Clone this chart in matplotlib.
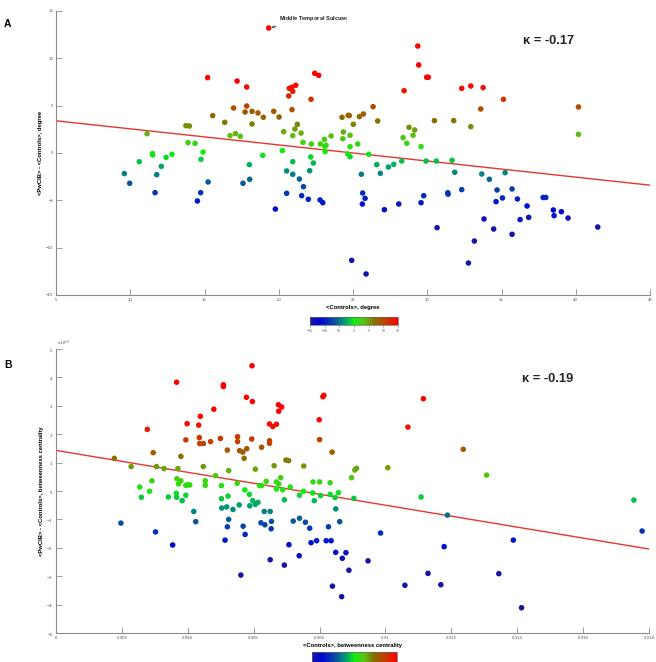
import numpy as np
import matplotlib
matplotlib.use('Agg')
import matplotlib.pyplot as plt
from matplotlib.colors import LinearSegmentedColormap, Normalize
from matplotlib.cm import ScalarMappable
from matplotlib.ticker import FuncFormatter, ScalarFormatter

plt.rcParams['font.family'] = ['Liberation Sans', 'DejaVu Sans']

# ---- panel A: degree ----
a_x = [19.32, 15.21, 17.19, 17.84, 20.67, 20.71, 20.87, 20.94, 21.14, 22.42, 22.69, 22.17,
       20.89, 16.96, 17.84, 17.73, 18.2, 18.6, 18.96, 19.66, 20.02, 15.55, 16.36, 18.2,
       21.25, 21.09, 13.75, 13.98, 11.13, 16.72, 17.08, 17.41, 20.33, 20.94, 21.5, 13.89,
       14.36, 21.63, 22.19, 22.8, 23.07, 23.18, 23.12, 23.1, 20.24, 14.9, 18.92, 10.61,
       11.49, 11.51, 12.41, 12.81, 12.09, 14.76, 22.15, 22.33, 20.94, 18.02, 9.6, 9.96,
       11.78, 20.53, 20.94, 22.08, 21.39, 21.66, 18.04, 17.59, 15.24, 11.67, 14.74, 14.52,
       20.53, 21.54, 21.99, 22.78, 22.96, 19.77,
       29.36, 29.42, 29.96, 30.07, 28.44, 32.32, 32.93, 33.76, 35.13, 33.6, 40.18, 26.35,
       25.7, 25.43, 24.67, 24.75, 24.26, 25.02, 26.66, 30.48, 31.78, 32.93, 28.77, 29.15,
       29.04, 28.37, 28.62, 29.58, 40.18, 23.52, 24.35, 24.31, 24.8, 24.8, 25.32, 24.64,
       24.8, 26.06, 25.56, 26.6, 26.84, 27.38, 27.74, 28.28, 29.92, 30.61, 31.67, 31.85,
       33.67, 34.18, 35.24, 34.7, 35.71, 32.32, 31.38, 31.4, 29.76, 29.58, 25.65, 25.81,
       25.63, 27.11, 28.08, 34.63, 35.06, 36.07, 36.72, 37.8, 37.98, 38.49, 38.54, 39.03,
       39.48, 36.83, 36.25, 33.82, 34.47, 35.71, 33.17, 30.66, 41.48, 24.91, 25.88, 32.77]
a_y = [13.2, 7.96, 7.6, 6.97, 6.02, 6.83, 6.94, 6.51, 7.15, 8.42, 8.2, 5.67,
       4.58, 4.75, 4.96, 4.33, 4.4, 4.23, 3.77, 4.4, 3.8, 3.94, 3.24, 3.06,
       3.03, 2.54, 2.89, 2.85, 2.04, 1.83, 2.04, 1.76, 2.25, 1.83, 2.11, 1.09,
       1.02, 1.13, 0.95, 0.95, 1.44, 0.81, 0.14, 0.7, 0.25, 0.1, -0.25, -0.92,
       -0.07, -0.21, -0.46, -0.14, -1.41, -0.67, -0.42, -1.06, -0.92, -1.23, -2.18, -3.2,
       -2.29, -1.9, -2.25, -1.87, -2.75, -3.56, -2.78, -3.2, -3.06, -4.19, -4.19, -5.07,
       -4.26, -4.51, -4.89, -4.96, -5.25, -5.92,
       11.3, 9.3, 8.0, 8.0, 6.58, 6.83, 7.08, 6.9, 5.67, 4.65, 4.86, 4.89,
       4.12, 3.84, 3.98, 3.95, 3.77, 3.03, 3.38, 3.42, 3.42, 2.78, 2.71, 2.43,
       1.87, 1.62, 1.02, 0.67, 1.97, 1.8, 2.22, 1.51, 1.87, 0.67, 0.95, -0.11,
       -0.39, -0.14, -2.25, -1.23, -2.15, -1.48, -1.2, -0.85, -0.85, -0.85, -0.77, -2.04,
       -2.22, -2.78, -2.08, -3.91, -3.8, -3.87, -4.2, -4.35, -4.51, -5.25, -4.23, -4.79,
       -5.39, -5.99, -5.39, -5.14, -4.75, -4.86, -5.6, -4.7, -4.7, -6.02, -6.62, -6.2,
       -6.87, -6.8, -7.04, -6.97, -8.03, -8.59, -9.3, -7.89, -7.82, -11.34, -12.78, -11.62]
a_fit = (4.25, -0.17)          # intercept, slope
a_kappa = '\u03ba = -0.17'
a_label = 'Middle Temporal Sulcus$_{\\mathregular{R}}$'

# ---- panel B: betweenness (x and y in units of 1e-3) ----
b_x = [5.95, 3.66, 5.08, 5.08, 5.78, 5.96, 4.79, 4.38, 3.98, 4.33, 2.77, 3.94,
       4.35, 4.69, 4.36, 4.47, 4.99, 5.51, 5.51, 5.94, 6.48, 6.58, 6.69, 6.75,
       6.85, 6.76, 7.99, 8.0, 8.1, 8.13, 6.48, 6.48, 6.24, 5.2, 5.57, 5.67,
       5.79, 5.71, 1.77, 2.95, 3.79, 2.28, 3.05, 3.28, 3.7, 4.47, 6.05, 6.62,
       6.98, 7.06, 7.52, 4.84, 5.24, 3.67, 3.79, 3.72, 3.94, 4.0, 4.06, 4.53,
       4.53, 2.91, 2.54, 2.84, 2.59, 3.65, 3.66, 3.41, 3.83, 3.94, 5.02, 5.02,
       5.5, 5.73, 5.87, 5.97, 5.88, 6.13, 6.05, 6.18, 6.24, 6.38, 6.69, 6.76,
       6.82, 6.69, 6.88, 7.11, 6.93, 7.39, 7.51, 7.79, 7.84, 7.8, 8.0, 8.03,
       5.22, 5.03, 5.18, 5.37, 5.56, 5.24, 4.18, 4.24, 6.32, 6.5, 6.54, 6.22,
       6.34, 6.53, 5.2, 5.68, 5.74, 5.13, 7.2, 7.39, 7.57, 7.7, 7.74, 7.07,
       7.38, 6.5, 6.93, 5.61, 1.97, 3.02, 3.54, 7.91, 8.27,
       11.15, 10.68, 12.36, 8.38, 10.07, 9.07, 9.12, 8.97, 13.07, 17.54, 8.32, 8.32,
       8.57, 8.47, 9.04, 11.08, 8.49, 11.88, 8.61, 9.85, 8.2, 8.35, 13.88, 17.79,
       8.49, 8.8, 8.69, 9.47, 11.78, 8.89, 11.29, 13.44, 8.39, 10.59, 11.68, 8.67,
       14.13]
b_y = [4.41, 3.83, 3.68, 3.74, 3.3, 3.15, 2.88, 2.63, 2.37, 2.32, 2.17, 1.8,
       1.88, 1.74, 1.67, 1.67, 1.85, 1.91, 1.74, 1.83, 2.36, 2.27, 2.35, 3.04,
       2.96, 2.81, 2.51, 1.81, 3.32, 3.37, 1.77, 1.68, 1.54, 1.44, 1.42, 1.37,
       1.49, 1.15, 1.15, 1.35, 1.22, 0.86, 0.86, 0.79, 0.79, 0.86, 0.77, 0.89,
       1.09, 1.07, 0.88, 0.54, 0.72, 0.43, 0.36, 0.25, 0.2, 0.22, 0.21, 0.36,
       0.2, 0.36, 0.14, -0.01, -0.22, -0.08, -0.22, -0.21, -0.34, -0.15, 0.19, -0.27,
       0.27, 0.04, -0.12, -0.34, -0.52, -0.4, -0.47, 0.19, 0.19, 0.34, 0.32, 0.25,
       0.47, 0.07, 0.04, 0.14, -0.31, -0.15, -0.01, -0.07, -0.34, 0.32, 0.32, -0.16,
       -0.18, -0.6, -0.56, -0.65, -0.49, -1.0, -0.72, -1.08, -0.72, -0.72, -1.07, -1.12,
       -1.19, -1.33, -1.26, -1.24, -1.53, -1.73, -1.06, -0.96, -1.1, -1.31, -1.82, -1.89,
       -2.28, -2.42, -2.61, -2.96, -1.13, -1.44, -1.9, -1.75, -1.26,
       3.25, 2.25, 1.47, 1.37, 0.82, 0.74, 0.8, 0.47, 0.56, -0.32, 0.29, -0.12,
       -0.06, -0.23, -0.26, -0.21, -0.63, -0.85, -1.08, -1.48, -1.75, -1.75, -1.73, -1.41,
       -2.16, -2.17, -2.37, -2.46, -1.96, -2.79, -2.9, -2.91, -3.35, -3.32, -3.3, -3.72,
       -4.11]
b_fit = (1.43, -0.193)         # intercept (1e-3), slope
b_kappa = '\u03ba = -0.19'

cmap = LinearSegmentedColormap.from_list('bgr', [
    (0.0, '#1414a6'), (0.12, '#0008d4'), (0.28, '#0a4fa0'), (0.4, '#00a070'),
    (0.5, '#10ee10'), (0.62, '#5cc012'), (0.73, '#877000'), (0.86, '#c43c00'),
    (1.0, '#ff0000')])

GRAY = '#8a8a8a'


def style_axes(ax):
    for s in ['top', 'right']:
        ax.spines[s].set_visible(False)
    for s in ['left', 'bottom']:
        ax.spines[s].set_color(GRAY)
        ax.spines[s].set_linewidth(0.8)
    ax.tick_params(direction='in', length=4, width=0.6, colors=GRAY,
                   labelsize=3.2, labelcolor='#555555', pad=2)


fig = plt.figure(figsize=(6.56, 6.62), dpi=100)

# panel A
axA = fig.add_axes([0.0854, 0.5544, 0.9055, 0.429])
xa = np.array(a_x)
ya = np.array(a_y)
axA.scatter(xa, ya, c=ya, cmap=cmap, norm=Normalize(-7.5, 7.5), s=16,
            edgecolors='none', zorder=3)
xl = np.array([5, 45])
axA.plot(xl, a_fit[0] + a_fit[1] * xl, color='#e8352c', lw=1.0, zorder=2)
axA.set_xlim(5, 45)
axA.set_ylim(-15, 15)
axA.set_xticks(np.arange(5, 46, 5))
axA.set_yticks(np.arange(-15, 16, 5))
style_axes(axA)
axA.set_xlabel('<Controls>, degree', fontsize=4.2, fontweight='bold', labelpad=2)
axA.set_ylabel('<PwCIB> - <Controls>, degree', fontsize=4.2, fontweight='bold', labelpad=2)
axA.text(0.7855, 0.895, a_kappa, transform=axA.transAxes, fontsize=9.3,
         fontweight='bold', color='#222222', va='center')
axA.annotate(a_label, xy=(xa[0], ya[0]), xytext=(20.0, 14.2), fontsize=4.1,
             fontweight='bold', color='#222222', va='center',
             arrowprops=dict(arrowstyle='->', color='#333333', lw=0.5))
fig.text(0.006, 0.959, 'A', fontsize=7.5, fontweight='bold')

caxA = fig.add_axes([0.4726, 0.509, 0.1341, 0.0121])
cbA = fig.colorbar(ScalarMappable(norm=Normalize(-15, 15), cmap=cmap), cax=caxA,
                   orientation='horizontal', ticks=np.arange(-15, 16, 5))
cbA.outline.set_edgecolor('#666666')
cbA.outline.set_linewidth(0.5)
caxA.tick_params(labelsize=2.6, length=1.5, width=0.4, colors='#666666', pad=1)

# panel B
axB = fig.add_axes([0.0854, 0.0438, 0.904, 0.429])
xb = np.array(b_x) * 1e-3
yb = np.array(b_y) * 1e-3
axB.scatter(xb, yb, c=yb, cmap=cmap, norm=Normalize(-2.5e-3, 2.5e-3), s=16,
            edgecolors='none', zorder=3)
xl = np.array([0, 0.018])
axB.plot(xl, (b_fit[0] * 1e-3) + b_fit[1] * xl, color='#e8352c', lw=1.0, zorder=2)
axB.set_xlim(0, 0.018)
axB.set_ylim(-5e-3, 5e-3)
axB.set_xticks(np.arange(0, 0.0181, 0.002))
axB.set_yticks(np.arange(-5e-3, 5.1e-3, 1e-3))
axB.xaxis.set_major_formatter(FuncFormatter(lambda v, p: '%g' % round(v, 4)))
fmt = ScalarFormatter(useMathText=True)
fmt.set_powerlimits((-2, 2))
axB.yaxis.set_major_formatter(fmt)
style_axes(axB)
axB.yaxis.get_offset_text().set_fontsize(3.2)
axB.yaxis.get_offset_text().set_color('#555555')
axB.set_xlabel('<Controls>, betweenness centrality', fontsize=4.2, fontweight='bold',
               labelpad=2)
axB.set_ylabel('<PwCIB> - <Controls>, betweenness centrality', fontsize=4.2,
               fontweight='bold', labelpad=2)
axB.text(0.7855, 0.895, b_kappa, transform=axB.transAxes, fontsize=9.3,
         fontweight='bold', color='#222222', va='center')
fig.text(0.006, 0.444, 'B', fontsize=7.5, fontweight='bold')

caxB = fig.add_axes([0.4756, 0.0, 0.1296, 0.015])
cbB = fig.colorbar(ScalarMappable(norm=Normalize(-5e-3, 5e-3), cmap=cmap), cax=caxB,
                   orientation='horizontal', ticks=[0])
cbB.outline.set_edgecolor('#666666')
cbB.outline.set_linewidth(0.5)
caxB.tick_params(labelbottom=False, length=1.5, width=0.4, colors='#666666')

fig.savefig('out.png', dpi=100)
